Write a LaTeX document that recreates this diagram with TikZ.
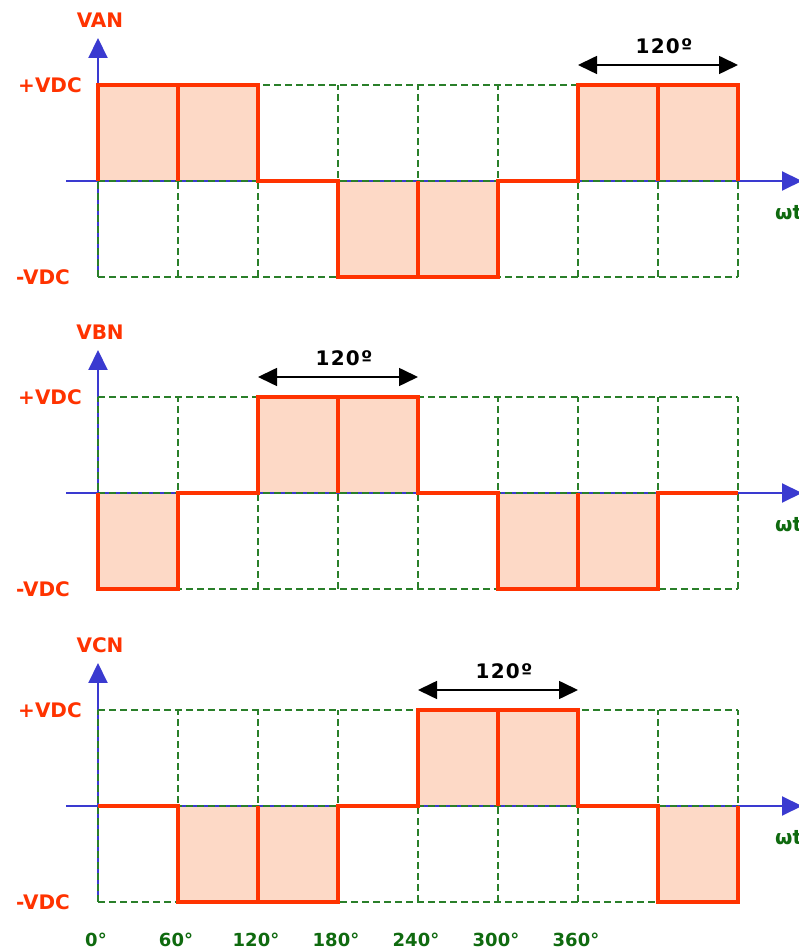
\documentclass[tikz,border=0pt]{standalone}
\usepackage{fontspec}
\setmainfont{DejaVu Sans}
\newfontfamily\spanfont[LetterSpace=6]{DejaVu Sans}
\usetikzlibrary{arrows.meta}
\definecolor{wavered}{HTML}{FF3300}
\definecolor{pulsefill}{HTML}{FDD9C6}
\definecolor{gridgreen}{HTML}{2A7F2A}
\definecolor{axisblue}{HTML}{3A3AD0}
\definecolor{labelgreen}{HTML}{0F6A0F}
\tikzset{
  wave/.style={wavered, line width=4pt, line join=miter},
  pulse/.style={fill=pulsefill},
  gridline/.style={gridgreen, line width=1.6pt, dash pattern=on 7pt off 4pt},
  axis/.style={axisblue, line width=2pt},
  axisarrow/.style={axis, -{Triangle[length=20pt,width=19pt]}},
  span/.style={black, line width=1.6pt, {Triangle[length=19pt,width=18pt]}-{Triangle[length=19pt,width=18pt]}},
  level/.style={wavered, inner sep=0pt, font=\bfseries\fontsize{20}{24}\selectfont},
  spantext/.style={black, inner sep=0pt, font=\spanfont\bfseries\fontsize{20}{24}\selectfont},
  wtlabel/.style={labelgreen, inner sep=0pt, font=\bfseries\fontsize{20}{24}\selectfont},
  deglabel/.style={labelgreen, inner sep=0pt, font=\bfseries\fontsize{18}{22}\selectfont}
}

\begin{document}
\begin{tikzpicture}[x=1pt,y=1pt]
\useasboundingbox[fill=white] (0,0) rectangle (798,950);

% VAN
\begin{scope}[shift={(98,769)}]
\fill[pulse] (0,0) rectangle (160,96);
\fill[pulse] (240,0) rectangle (400,-96);
\fill[pulse] (480,0) rectangle (640,96);

\coordinate (anbot) at (0,-96);
\coordinate (antop) at (0,143);
\coordinate (anleft) at (-32,0);
\coordinate (anright) at (704,0);
\draw[axisarrow] (anbot) -- (antop);
\draw[axisarrow] (anleft) -- (anright);
\draw[gridline, xstep=80, ystep=96] (0,-96) grid (640,96);

\draw[wave] (0,0) -- (0,96) -- (160,96) -- (160,0) -- (240,0) -- (240,-96) -- (400,-96) -- (400,0) -- (480,0) -- (480,96) -- (640,96) -- (640,0);
\draw[wave] (80,0) -- (80,96);
\draw[wave] (320,0) -- (320,-96);
\draw[wave] (560,0) -- (560,96);

\node[level] (anname) at (2,161) {VAN};
\node[level] (anplus) at (-48,96) {+VDC};
\node[level] (anminus) at (-55,-96) {-VDC};
\node[wtlabel, anchor=west] (anwt) at (677,-32) {ωt};

\coordinate (anspanl) at (480,116);
\coordinate (anspanr) at (640,116);
\draw[span] (anspanl) -- (anspanr);
\node[spantext] (anspan) at (566,135) {120º};
\end{scope}

% VBN
\begin{scope}[shift={(98,457)}]
\fill[pulse] (0,0) rectangle (80,-96);
\fill[pulse] (160,0) rectangle (320,96);
\fill[pulse] (400,0) rectangle (560,-96);

\coordinate (bnbot) at (0,-96);
\coordinate (bntop) at (0,143);
\coordinate (bnleft) at (-32,0);
\coordinate (bnright) at (704,0);
\draw[axisarrow] (bnbot) -- (bntop);
\draw[axisarrow] (bnleft) -- (bnright);
\draw[gridline, xstep=80, ystep=96] (0,-96) grid (640,96);

\draw[wave] (0,0) -- (0,-96) -- (80,-96) -- (80,0) -- (160,0) -- (160,96) -- (320,96) -- (320,0) -- (400,0) -- (400,-96) -- (560,-96) -- (560,0) -- (640,0);
\draw[wave] (240,0) -- (240,96);
\draw[wave] (480,0) -- (480,-96);

\node[level] (bnname) at (2,161) {VBN};
\node[level] (bnplus) at (-48,96) {+VDC};
\node[level] (bnminus) at (-55,-96) {-VDC};
\node[wtlabel, anchor=west] (bnwt) at (677,-32) {ωt};

\coordinate (bnspanl) at (160,116);
\coordinate (bnspanr) at (320,116);
\draw[span] (bnspanl) -- (bnspanr);
\node[spantext] (bnspan) at (246,135) {120º};
\end{scope}

% VCN
\begin{scope}[shift={(98,144)}]
\fill[pulse] (80,0) rectangle (240,-96);
\fill[pulse] (320,0) rectangle (480,96);
\fill[pulse] (560,0) rectangle (640,-96);

\coordinate (cnbot) at (0,-96);
\coordinate (cntop) at (0,143);
\coordinate (cnleft) at (-32,0);
\coordinate (cnright) at (704,0);
\draw[axisarrow] (cnbot) -- (cntop);
\draw[axisarrow] (cnleft) -- (cnright);
\draw[gridline, xstep=80, ystep=96] (0,-96) grid (640,96);

\draw[wave] (0,0) -- (80,0) -- (80,-96) -- (240,-96) -- (240,0) -- (320,0) -- (320,96) -- (480,96) -- (480,0) -- (560,0) -- (560,-96) -- (640,-96) -- (640,0);
\draw[wave] (160,0) -- (160,-96);
\draw[wave] (400,0) -- (400,96);

\node[level] (cnname) at (2,161) {VCN};
\node[level] (cnplus) at (-48,96) {+VDC};
\node[level] (cnminus) at (-55,-96) {-VDC};
\node[wtlabel, anchor=west] (cnwt) at (677,-32) {ωt};

\coordinate (cnspanl) at (320,116);
\coordinate (cnspanr) at (480,116);
\draw[span] (cnspanl) -- (cnspanr);
\node[spantext] (cnspan) at (406,135) {120º};

% angles
\node[deglabel] (deg0) at (-2,-134) {0°};
\node[deglabel] (deg60) at (78,-134) {60°};
\node[deglabel] (deg120) at (158,-134) {120°};
\node[deglabel] (deg180) at (238,-134) {180°};
\node[deglabel] (deg240) at (318,-134) {240°};
\node[deglabel] (deg300) at (398,-134) {300°};
\node[deglabel] (deg360) at (478,-134) {360°};
\end{scope}

\end{tikzpicture}
\end{document}
